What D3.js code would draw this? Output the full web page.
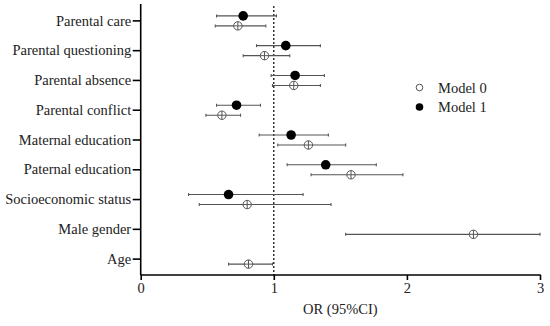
<!DOCTYPE html>
<html><head><meta charset="utf-8">
<script src="https://cdn.jsdelivr.net/npm/d3@7"></script>
<style>html,body{margin:0;padding:0;background:#fff;} svg text{font-family:"Liberation Serif","Times New Roman",serif;}</style>
</head><body>
<svg id="c" width="550" height="326"></svg>
<script>
const categories = ["Parental care","Parental questioning","Parental absence","Parental conflict","Maternal education","Paternal education","Socioeconomic status","Male gender","Age"];
// Model 0 (open circles): OR, lower, upper
const model0OR    = [0.73, 0.93, 1.15, 0.61, 1.26, 1.58, 0.80, 2.50, 0.81];
const model0Lower = [0.56, 0.77, 0.99, 0.49, 1.03, 1.28, 0.44, 1.54, 0.66];
const model0Upper = [0.94, 1.12, 1.35, 0.75, 1.54, 1.97, 1.43, 3.00, 0.99];
// Model 1 (filled circles)
const model1OR    = [0.77, 1.09, 1.16, 0.72, 1.13, 1.39, 0.66, null, null];
const model1Lower = [0.57, 0.87, 0.98, 0.57, 0.89, 1.10, 0.36, null, null];
const model1Upper = [1.02, 1.35, 1.38, 0.90, 1.41, 1.77, 1.22, null, null];
const xTicks = [0,1,2,3];
const seriesNames = ["Model 0","Model 1"];

const fs = 14.5;
const svg = d3.select("#c");
const x = d3.scaleLinear().domain([0,3]).range([140.7,540]);
const y = d3.scaleBand().domain(categories).range([6,274]);
const yc = c => y(c) + y.bandwidth()/2;
const axisY = 275;

// reference line at OR = 1
svg.append("line").attr("x1",x(1)).attr("x2",x(1)).attr("y1",6).attr("y2",axisY)
  .attr("stroke","#000").attr("stroke-width",1.2).attr("stroke-dasharray","2,2");

function drawSeries(or, lo, hi, off, filled){
  categories.forEach((c,i)=>{
    if(or[i]==null) return;
    const cy = yc(c)+off;
    const g = svg.append("g");
    g.append("line").attr("x1",x(lo[i])).attr("x2",x(hi[i])).attr("y1",cy).attr("y2",cy)
      .attr("stroke","#555").attr("stroke-width",1.1);
    [lo[i],hi[i]].forEach(v=>g.append("line").attr("x1",x(v)).attr("x2",x(v)).attr("y1",cy-1.5).attr("y2",cy+1.5)
      .attr("stroke","#555").attr("stroke-width",1.1));
    if(filled){
      g.append("circle").attr("cx",x(or[i])).attr("cy",cy).attr("r",4.8).attr("fill","#000");
    } else {
      g.append("circle").attr("cx",x(or[i])).attr("cy",cy).attr("r",4.2).attr("fill","#fff").attr("stroke","#555").attr("stroke-width",1);
      g.append("line").attr("x1",x(or[i])-4.2).attr("x2",x(or[i])+4.2).attr("y1",cy).attr("y2",cy).attr("stroke","#555").attr("stroke-width",1);
      g.append("line").attr("x1",x(or[i])).attr("x2",x(or[i])).attr("y1",cy-4.2).attr("y2",cy+4.2).attr("stroke","#555").attr("stroke-width",1);
    }
  });
}
drawSeries(model0OR, model0Lower, model0Upper, 5, false);
drawSeries(model1OR, model1Lower, model1Upper, -5, true);

// axes
const xAxis = svg.append("g").attr("transform",`translate(0,${axisY})`)
  .call(d3.axisBottom(x).tickValues(xTicks).tickFormat(d3.format("d")).tickSizeOuter(0).tickSize(5));
xAxis.select(".domain").attr("stroke-width",1.6).attr("d",`M${x(0)},0H${x(3)+0.8}`);
xAxis.selectAll(".tick line").attr("stroke-width",1.6);
xAxis.selectAll("text").attr("font-family",null).attr("font-size",fs).attr("fill","#222").attr("dy","0.72em");

const yAxis = svg.append("g").attr("transform",`translate(${x(0)},0)`)
  .call(d3.axisLeft(y).tickSize(8).tickSizeOuter(0));
yAxis.select(".domain").attr("stroke-width",1.6).attr("d",`M0,4V${axisY}`);
yAxis.selectAll(".tick line").attr("stroke-width",1.6);
yAxis.selectAll("text").attr("font-family",null).attr("font-size",fs).attr("fill","#222").attr("x",-9.5);

svg.append("text").attr("x",x(1.5)).attr("y",314).attr("text-anchor","middle")
  .attr("font-size",fs).attr("fill","#222").text("OR (95%CI)");

// legend
const leg = svg.append("g");
seriesNames.forEach((n,i)=>{
  const ly = 87.5 + i*19.5;
  if(i===0) leg.append("circle").attr("cx",419.5).attr("cy",ly).attr("r",3.3).attr("fill","#fff").attr("stroke","#555").attr("stroke-width",1);
  else leg.append("circle").attr("cx",419.5).attr("cy",ly).attr("r",3.8).attr("fill","#000");
  leg.append("text").attr("x",438).attr("y",ly).attr("dy","0.35em").attr("font-size",fs).attr("fill","#222").text(n);
});
</script>
</body></html>
